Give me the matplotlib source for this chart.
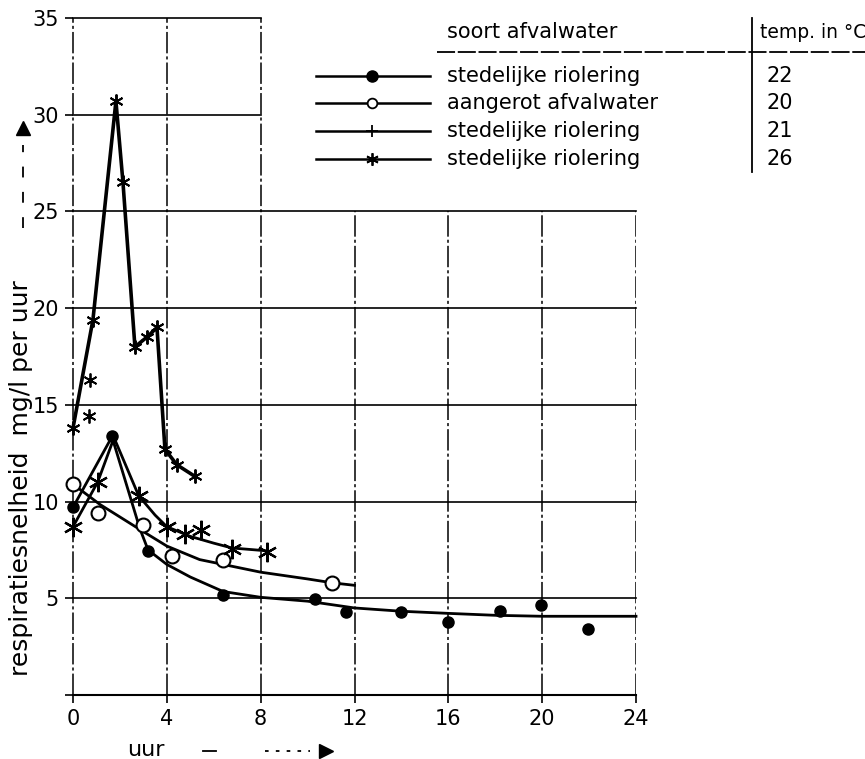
import matplotlib.pyplot as plt
from matplotlib.lines import Line2D
import numpy as np

# stedelijke riolering 22 C (filled circles)
uur_22 = [0, 1.66, 3.2, 6.4, 10.3, 11.65, 14.0, 16.0, 18.2, 19.95, 21.95]
resp_22 = [9.7, 13.4, 7.45, 5.15, 4.95, 4.3, 4.3, 3.75, 4.35, 4.65, 3.4]
curve_x_22 = [0, 1.66, 2.85, 3.2, 4.0, 5.0, 6.4, 8.0, 10.0, 12.0, 14.0, 16.0, 18.0, 20.0, 24.0]
curve_y_22 = [9.7, 13.35, 8.6, 7.5, 6.75, 6.1, 5.35, 5.05, 4.85, 4.5, 4.33, 4.22, 4.12, 4.07, 4.07]

# aangerot afvalwater 20 C (open circles)
uur_20 = [0, 1.07, 3.0, 4.2, 6.4, 11.05]
resp_20 = [10.9, 9.4, 8.8, 7.2, 7.0, 5.8]
curve_x_20 = [0, 1.15, 2.86, 4.0, 5.4, 8.0, 10.0, 11.05, 12.0]
curve_y_20 = [10.9, 9.85, 8.55, 7.7, 7.0, 6.35, 6.0, 5.8, 5.67]

# stedelijke riolering 21 C
uur_21 = [0, 1.05, 2.8, 4.0, 4.78, 5.45, 6.78, 8.27]
resp_21 = [8.7, 11.0, 10.3, 8.7, 8.3, 8.55, 7.55, 7.4]
curve_x_21 = [0, 1.05, 1.75, 2.8, 3.5, 4.0, 5.0, 6.0, 6.78, 8.3]
curve_y_21 = [8.7, 11.0, 13.3, 10.3, 9.3, 8.7, 8.2, 7.85, 7.6, 7.45]

# stedelijke riolering 26 C
uur_26 = [0, 0.85, 1.83, 2.13, 2.64, 3.15, 3.58, 3.92, 4.43, 5.2]
resp_26 = [13.8, 19.4, 30.7, 26.5, 18.0, 18.5, 19.0, 12.7, 11.9, 11.3]
los_x_26 = [0.68, 0.72]
los_y_26 = [14.4, 16.3]

xticks = [0, 4, 8, 12, 16, 20, 24]
yticks = [0, 5, 10, 15, 20, 25, 30, 35]

W, H = 865, 759
fig = plt.figure(figsize=(W / 100, H / 100), dpi=100)
ax = fig.add_axes([73 / W, 1 - 695 / H, (636 - 73) / W, (695 - 18) / H])
ax.set_xlim(0, 24)
ax.set_ylim(0, 35)

# grid (only the drawn part of the paper grid)
for x in xticks[1:]:
    top = 35 if x <= 8 else 25
    ax.plot([x, x], [0, top], color='black', lw=1.1, ls=(0, (14, 2, 2, 2)), zorder=1)
ax.plot([0, 0], [0, 35], color='black', lw=1.1, ls=(0, (14, 2, 2, 2)), zorder=1, clip_on=False)
for y in yticks[1:]:
    right = 24 if y <= 25 else 8
    ax.plot([0, right], [y, y], color='black', lw=1.2, zorder=1, clip_on=False)
ax.plot([0, 24], [0, 0], color='black', lw=1.5, zorder=1, clip_on=False)

for s in ax.spines.values():
    s.set_visible(False)
ax.set_xticks(xticks)
ax.set_yticks(yticks)
ax.set_yticklabels([''] + [str(v) for v in yticks[1:]])
ax.tick_params(direction='out', length=6, width=1.2, labelsize=15, pad=4)

ast = (6, 2, 0)

ax.plot(curve_x_22, curve_y_22, color='black', lw=2, zorder=2, clip_on=False)
ax.plot(uur_22, resp_22, 'o', color='black', ms=8, zorder=3, clip_on=False)

ax.plot(curve_x_20, curve_y_20, color='black', lw=2, zorder=2, clip_on=False)
ax.plot(uur_20, resp_20, 'o', mfc='white', mec='black', mew=1.5, ms=10, zorder=3, clip_on=False)

ax.plot(curve_x_21, curve_y_21, color='black', lw=2, zorder=2, clip_on=False)
ax.plot(uur_21, resp_21, ls='none', marker=ast, color='black', mew=1.6, ms=14, zorder=3, clip_on=False)

ax.plot(uur_26, resp_26, color='black', lw=2.6, marker=ast, mew=1.4, ms=10, zorder=3, clip_on=False)
ax.plot(los_x_26, los_y_26, ls='none', marker=ast, color='black', mew=1.3, ms=10, zorder=3)

# legend table
def fx(px):
    return px / W

def fy(py):
    return 1 - py / H

fig.text(fx(447), fy(32), 'soort afvalwater', fontsize=15, va='center', ha='left')
fig.text(fx(760), fy(32), 'temp. in °C', fontsize=13.5, va='center', ha='left')
fig.add_artist(Line2D([fx(437), fx(865)], [fy(52), fy(52)], color='black', lw=1.3, ls=(0, (10, 1.5))))
fig.add_artist(Line2D([fx(752), fx(752)], [fy(18), fy(172)], color='black', lw=1.3))

rows = [('stedelijke riolering', '22', dict(marker='o', ms=8, mfc='black')),
        ('aangerot afvalwater', '20', dict(marker='o', ms=7, mfc='white', mew=1.3)),
        ('stedelijke riolering', '21', dict(marker='+', ms=9, mew=1.3)),
        ('stedelijke riolering', '26', dict(marker=ast, ms=9, mew=1.3))]
row_y = [76, 103, 131, 159]
for (naam, temp, mk), py in zip(rows, row_y):
    fig.add_artist(Line2D([fx(316), fx(430)], [fy(py), fy(py)], color='black', lw=1.8))
    fig.add_artist(Line2D([fx(372)], [fy(py)], color='black', mec='black', **mk))
    fig.text(fx(447), fy(py), naam, fontsize=15, va='center', ha='left')
    fig.text(fx(780), fy(py), temp, fontsize=15, va='center', ha='center')

# axis titles with arrows
fig.text(fx(21), fy(676), 'respiratiesnelheid  mg/l per uur', fontsize=18,
         rotation=90, ha='center', va='bottom')
fig.add_artist(Line2D([fx(23), fx(23)], [fy(228), fy(145)], color='black', lw=1.3, ls=(0, (6, 8))))
fig.add_artist(Line2D([fx(23)], [fy(128)], marker='^', ms=10, color='black'))

fig.text(fx(127), fy(750), 'uur', fontsize=16, ha='left', va='center')
fig.add_artist(Line2D([fx(203), fx(216)], [fy(751), fy(751)], color='black', lw=1.3))
fig.add_artist(Line2D([fx(265), fx(310)], [fy(751), fy(751)], color='black', lw=1.3, ls=(0, (2, 4))))
fig.add_artist(Line2D([fx(326)], [fy(751)], marker='>', ms=10, color='black'))

fig.savefig('out.png', dpi=100)
